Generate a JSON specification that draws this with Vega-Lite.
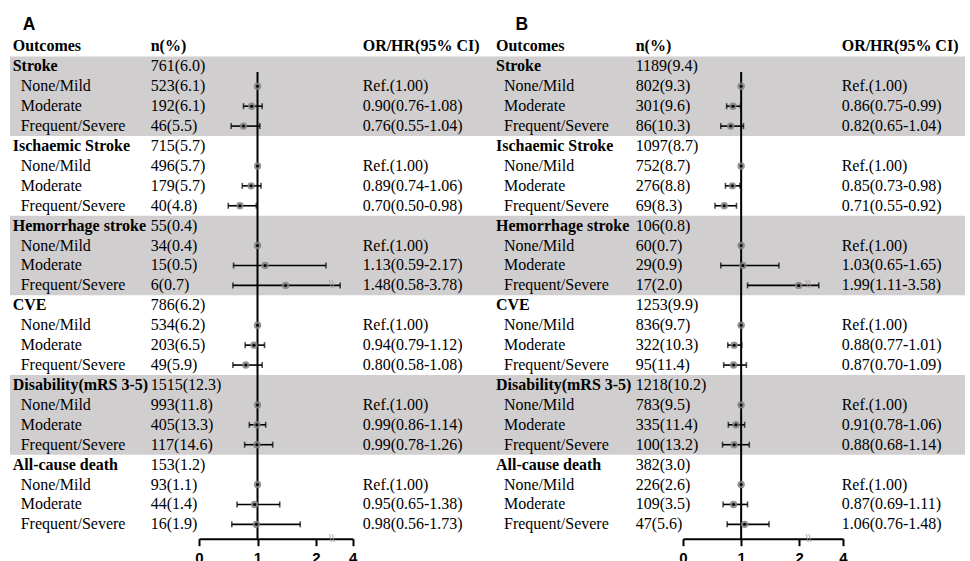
{
  "$schema": "https://vega.github.io/schema/vega-lite/v6.json",
  "padding": {"left": 10, "top": 15.5, "right": 5, "bottom": 0},
  "background": "white",
  "config": {"view": {"stroke": null}},
  "datasets": {
    "bands": [{"start": 0.5, "end": 4.5}, {"start": 8.5, "end": 12.5}, {"start": 16.5, "end": 20.5}],
    "tabA": [
      {"row": 0, "level": "header", "label": "Outcomes", "n": "n(%)", "ci": "OR/HR(95% CI)"},
      {"row": 1, "level": "group", "label": "Stroke", "n": "761(6.0)"},
      {"row": 2, "level": "sub", "label": "None/Mild", "n": "523(6.1)", "ci": "Ref.(1.00)", "est": 1},
      {"row": 3, "level": "sub", "label": "Moderate", "n": "192(6.1)", "ci": "0.90(0.76-1.08)", "est": 0.90, "lo": 0.76, "hi": 1.08},
      {"row": 4, "level": "sub", "label": "Frequent/Severe", "n": "46(5.5)", "ci": "0.76(0.55-1.04)", "est": 0.76, "lo": 0.55, "hi": 1.04},
      {"row": 5, "level": "group", "label": "Ischaemic Stroke", "n": "715(5.7)"},
      {"row": 6, "level": "sub", "label": "None/Mild", "n": "496(5.7)", "ci": "Ref.(1.00)", "est": 1},
      {"row": 7, "level": "sub", "label": "Moderate", "n": "179(5.7)", "ci": "0.89(0.74-1.06)", "est": 0.89, "lo": 0.74, "hi": 1.06},
      {"row": 8, "level": "sub", "label": "Frequent/Severe", "n": "40(4.8)", "ci": "0.70(0.50-0.98)", "est": 0.70, "lo": 0.50, "hi": 0.98},
      {"row": 9, "level": "group", "label": "Hemorrhage stroke", "n": "55(0.4)"},
      {"row": 10, "level": "sub", "label": "None/Mild", "n": "34(0.4)", "ci": "Ref.(1.00)", "est": 1},
      {"row": 11, "level": "sub", "label": "Moderate", "n": "15(0.5)", "ci": "1.13(0.59-2.17)", "est": 1.13, "lo": 0.59, "hi": 2.17},
      {"row": 12, "level": "sub", "label": "Frequent/Severe", "n": "6(0.7)", "ci": "1.48(0.58-3.78)", "est": 1.48, "lo": 0.58, "hi": 3.78},
      {"row": 13, "level": "group", "label": "CVE", "n": "786(6.2)"},
      {"row": 14, "level": "sub", "label": "None/Mild", "n": "534(6.2)", "ci": "Ref.(1.00)", "est": 1},
      {"row": 15, "level": "sub", "label": "Moderate", "n": "203(6.5)", "ci": "0.94(0.79-1.12)", "est": 0.94, "lo": 0.79, "hi": 1.12},
      {"row": 16, "level": "sub", "label": "Frequent/Severe", "n": "49(5.9)", "ci": "0.80(0.58-1.08)", "est": 0.80, "lo": 0.58, "hi": 1.08},
      {"row": 17, "level": "group", "label": "Disability(mRS 3-5)", "n": "1515(12.3)"},
      {"row": 18, "level": "sub", "label": "None/Mild", "n": "993(11.8)", "ci": "Ref.(1.00)", "est": 1},
      {"row": 19, "level": "sub", "label": "Moderate", "n": "405(13.3)", "ci": "0.99(0.86-1.14)", "est": 0.99, "lo": 0.86, "hi": 1.14},
      {"row": 20, "level": "sub", "label": "Frequent/Severe", "n": "117(14.6)", "ci": "0.99(0.78-1.26)", "est": 0.99, "lo": 0.78, "hi": 1.26},
      {"row": 21, "level": "group", "label": "All-cause death", "n": "153(1.2)"},
      {"row": 22, "level": "sub", "label": "None/Mild", "n": "93(1.1)", "ci": "Ref.(1.00)", "est": 1},
      {"row": 23, "level": "sub", "label": "Moderate", "n": "44(1.4)", "ci": "0.95(0.65-1.38)", "est": 0.95, "lo": 0.65, "hi": 1.38},
      {"row": 24, "level": "sub", "label": "Frequent/Severe", "n": "16(1.9)", "ci": "0.98(0.56-1.73)", "est": 0.98, "lo": 0.56, "hi": 1.73}
    ],
    "tabB": [
      {"row": 0, "level": "header", "label": "Outcomes", "n": "n(%)", "ci": "OR/HR(95% CI)"},
      {"row": 1, "level": "group", "label": "Stroke", "n": "1189(9.4)"},
      {"row": 2, "level": "sub", "label": "None/Mild", "n": "802(9.3)", "ci": "Ref.(1.00)", "est": 1},
      {"row": 3, "level": "sub", "label": "Moderate", "n": "301(9.6)", "ci": "0.86(0.75-0.99)", "est": 0.86, "lo": 0.75, "hi": 0.99},
      {"row": 4, "level": "sub", "label": "Frequent/Severe", "n": "86(10.3)", "ci": "0.82(0.65-1.04)", "est": 0.82, "lo": 0.65, "hi": 1.04},
      {"row": 5, "level": "group", "label": "Ischaemic Stroke", "n": "1097(8.7)"},
      {"row": 6, "level": "sub", "label": "None/Mild", "n": "752(8.7)", "ci": "Ref.(1.00)", "est": 1},
      {"row": 7, "level": "sub", "label": "Moderate", "n": "276(8.8)", "ci": "0.85(0.73-0.98)", "est": 0.85, "lo": 0.73, "hi": 0.98},
      {"row": 8, "level": "sub", "label": "Frequent/Severe", "n": "69(8.3)", "ci": "0.71(0.55-0.92)", "est": 0.71, "lo": 0.55, "hi": 0.92},
      {"row": 9, "level": "group", "label": "Hemorrhage stroke", "n": "106(0.8)"},
      {"row": 10, "level": "sub", "label": "None/Mild", "n": "60(0.7)", "ci": "Ref.(1.00)", "est": 1},
      {"row": 11, "level": "sub", "label": "Moderate", "n": "29(0.9)", "ci": "1.03(0.65-1.65)", "est": 1.03, "lo": 0.65, "hi": 1.65},
      {"row": 12, "level": "sub", "label": "Frequent/Severe", "n": "17(2.0)", "ci": "1.99(1.11-3.58)", "est": 1.99, "lo": 1.11, "hi": 3.58},
      {"row": 13, "level": "group", "label": "CVE", "n": "1253(9.9)"},
      {"row": 14, "level": "sub", "label": "None/Mild", "n": "836(9.7)", "ci": "Ref.(1.00)", "est": 1},
      {"row": 15, "level": "sub", "label": "Moderate", "n": "322(10.3)", "ci": "0.88(0.77-1.01)", "est": 0.88, "lo": 0.77, "hi": 1.01},
      {"row": 16, "level": "sub", "label": "Frequent/Severe", "n": "95(11.4)", "ci": "0.87(0.70-1.09)", "est": 0.87, "lo": 0.70, "hi": 1.09},
      {"row": 17, "level": "group", "label": "Disability(mRS 3-5)", "n": "1218(10.2)"},
      {"row": 18, "level": "sub", "label": "None/Mild", "n": "783(9.5)", "ci": "Ref.(1.00)", "est": 1},
      {"row": 19, "level": "sub", "label": "Moderate", "n": "335(11.4)", "ci": "0.91(0.78-1.06)", "est": 0.91, "lo": 0.78, "hi": 1.06},
      {"row": 20, "level": "sub", "label": "Frequent/Severe", "n": "100(13.2)", "ci": "0.88(0.68-1.14)", "est": 0.88, "lo": 0.68, "hi": 1.14},
      {"row": 21, "level": "group", "label": "All-cause death", "n": "382(3.0)"},
      {"row": 22, "level": "sub", "label": "None/Mild", "n": "226(2.6)", "ci": "Ref.(1.00)", "est": 1},
      {"row": 23, "level": "sub", "label": "Moderate", "n": "109(3.5)", "ci": "0.87(0.69-1.11)", "est": 0.87, "lo": 0.69, "hi": 1.11},
      {"row": 24, "level": "sub", "label": "Frequent/Severe", "n": "47(5.6)", "ci": "1.06(0.76-1.48)", "est": 1.06, "lo": 0.76, "hi": 1.48}
    ]
  },
  "spacing": 0,
  "bounds": "flush",
  "hconcat": [
    {
      "title": {"text": "A", "anchor": "start", "font": "Liberation Sans", "fontSize": 17.5, "fontWeight": "bold", "color": "black", "baseline": "top", "dx": 12.7, "offset": 3.1},
      "width": 140, "height": 502.2,
      "data": {"name": "tabA"},
      "encoding": {"y": {"field": "row", "type": "quantitative", "scale": {"domain": [-0.5, 24.72], "reverse": true, "nice": false, "zero": false}, "axis": null}},
      "layer": [
        {"data": {"name": "bands"}, "mark": {"type": "rect", "color": "#d0cece"}, "encoding": {"y": {"field": "start", "type": "quantitative", "axis": null}, "y2": {"field": "end"}}},
        {"transform": [{"filter": "datum.level != 'sub'"}], "mark": {"type": "text", "align": "left", "baseline": "middle", "font": "Liberation Serif", "fontSize": 16, "fontWeight": "bold", "color": "black", "x": 0, "dx": 2.7}, "encoding": {"text": {"field": "label"}}},
        {"transform": [{"filter": "datum.level == 'sub'"}], "mark": {"type": "text", "align": "left", "baseline": "middle", "font": "Liberation Serif", "fontSize": 16, "color": "black", "x": 0, "dx": 10.7}, "encoding": {"text": {"field": "label"}}}
      ]
    },
    {
      "width": 212, "height": 502.2,
      "data": {"name": "tabA"},
      "encoding": {"y": {"field": "row", "type": "quantitative", "scale": {"domain": [-0.5, 24.72], "reverse": true, "nice": false, "zero": false}, "axis": null}},
      "layer": [
        {"data": {"name": "bands"}, "mark": {"type": "rect", "color": "#d0cece"}, "encoding": {"y": {"field": "start", "type": "quantitative", "axis": null}, "y2": {"field": "end"}}},
        {"transform": [{"filter": "datum.level == 'header'"}], "mark": {"type": "text", "align": "left", "baseline": "middle", "font": "Liberation Serif", "fontSize": 16, "fontWeight": "bold", "color": "black", "x": 0, "dx": 0.7}, "encoding": {"text": {"field": "n"}}},
        {"transform": [{"filter": "datum.level != 'header'"}], "mark": {"type": "text", "align": "left", "baseline": "middle", "font": "Liberation Serif", "fontSize": 16, "color": "black", "x": 0, "dx": 0.7}, "encoding": {"text": {"field": "n"}}},
        {"transform": [{"filter": "datum.row == 0"}], "mark": {"type": "rule", "color": "black", "strokeWidth": 2},
         "encoding": {
           "x": {"datum": 1, "type": "quantitative", "scale": {"domain": [0, 2.27, 3.64, 4], "range": [49, 181.8, 182.2, 202.7], "nice": false, "zero": false},
                 "axis": {"values": [0, 1, 2, 4], "format": "d", "title": null, "grid": false, "domainColor": "black", "domainWidth": 2, "tickColor": "black", "tickWidth": 2, "tickSize": 7, "labelFont": "Liberation Sans", "labelFontSize": 15, "labelFontWeight": "bold", "labelColor": "black", "labelPadding": 5, "labelFlush": false, "labelOverlap": false}},
           "y": {"datum": 1.28, "type": "quantitative"}, "y2": {"datum": 24.72, "type": "quantitative"}}},
        {"transform": [{"filter": "isValid(datum.lo)"}], "mark": {"type": "rule", "color": "black", "strokeWidth": 1.6}, "encoding": {"x": {"field": "lo", "type": "quantitative"}, "x2": {"field": "hi"}}},
        {"transform": [{"filter": "isValid(datum.lo)"}], "mark": {"type": "tick", "orient": "vertical", "color": "black", "thickness": 1.6, "size": 6}, "encoding": {"x": {"field": "lo", "type": "quantitative"}}},
        {"transform": [{"filter": "isValid(datum.hi)"}], "mark": {"type": "tick", "orient": "vertical", "color": "black", "thickness": 1.6, "size": 6}, "encoding": {"x": {"field": "hi", "type": "quantitative"}}},
        {"transform": [{"filter": "datum.hi > 2.27"}], "mark": {"type": "text", "text": "\\\\", "font": "Liberation Sans", "fontSize": 10, "color": "#9a9a9a", "align": "center", "baseline": "middle"}, "encoding": {"x": {"datum": 2.27, "type": "quantitative"}}},
        {"transform": [{"filter": "datum.row == 0"}], "mark": {"type": "text", "text": "\\\\", "font": "Liberation Sans", "fontSize": 10, "color": "#9a9a9a", "align": "center", "baseline": "middle"}, "encoding": {"x": {"datum": 2.27, "type": "quantitative"}, "y": {"datum": 24.72, "type": "quantitative"}}},
        {"transform": [{"filter": "isValid(datum.est)"}], "mark": {"type": "circle", "color": "#808080", "size": 55, "opacity": 0.85}, "encoding": {"x": {"field": "est", "type": "quantitative"}}},
        {"transform": [{"filter": "isValid(datum.est)"}], "mark": {"type": "circle", "color": "black", "size": 9, "opacity": 1}, "encoding": {"x": {"field": "est", "type": "quantitative"}}}
      ]
    },
    {
      "width": 130, "height": 502.2,
      "data": {"name": "tabA"},
      "encoding": {"y": {"field": "row", "type": "quantitative", "scale": {"domain": [-0.5, 24.72], "reverse": true, "nice": false, "zero": false}, "axis": null}},
      "layer": [
        {"data": {"name": "bands"}, "mark": {"type": "rect", "color": "#d0cece"}, "encoding": {"y": {"field": "start", "type": "quantitative", "axis": null}, "y2": {"field": "end"}}},
        {"transform": [{"filter": "datum.level == 'header'"}], "mark": {"type": "text", "align": "left", "baseline": "middle", "font": "Liberation Serif", "fontSize": 16, "fontWeight": "bold", "color": "black", "x": 0, "dx": 0.7}, "encoding": {"text": {"field": "ci"}}},
        {"transform": [{"filter": "datum.level == 'sub'"}], "mark": {"type": "text", "align": "left", "baseline": "middle", "font": "Liberation Serif", "fontSize": 16, "color": "black", "x": 0, "dx": 0.7}, "encoding": {"text": {"field": "ci"}}}
      ]
    },
    {
      "title": {"text": "B", "anchor": "start", "font": "Liberation Sans", "fontSize": 17.5, "fontWeight": "bold", "color": "black", "baseline": "top", "dx": 23.5, "offset": 3.1},
      "width": 143, "height": 502.2,
      "data": {"name": "tabB"},
      "encoding": {"y": {"field": "row", "type": "quantitative", "scale": {"domain": [-0.5, 24.72], "reverse": true, "nice": false, "zero": false}, "axis": null}},
      "layer": [
        {"data": {"name": "bands"}, "mark": {"type": "rect", "color": "#d0cece"}, "encoding": {"y": {"field": "start", "type": "quantitative", "axis": null}, "y2": {"field": "end"}}},
        {"transform": [{"filter": "datum.level != 'sub'"}], "mark": {"type": "text", "align": "left", "baseline": "middle", "font": "Liberation Serif", "fontSize": 16, "fontWeight": "bold", "color": "black", "x": 0, "dx": 4}, "encoding": {"text": {"field": "label"}}},
        {"transform": [{"filter": "datum.level == 'sub'"}], "mark": {"type": "text", "align": "left", "baseline": "middle", "font": "Liberation Serif", "fontSize": 16, "color": "black", "x": 0, "dx": 12}, "encoding": {"text": {"field": "label"}}}
      ]
    },
    {
      "width": 206, "height": 502.2,
      "data": {"name": "tabB"},
      "encoding": {"y": {"field": "row", "type": "quantitative", "scale": {"domain": [-0.5, 24.72], "reverse": true, "nice": false, "zero": false}, "axis": null}},
      "layer": [
        {"data": {"name": "bands"}, "mark": {"type": "rect", "color": "#d0cece"}, "encoding": {"y": {"field": "start", "type": "quantitative", "axis": null}, "y2": {"field": "end"}}},
        {"transform": [{"filter": "datum.level == 'header'"}], "mark": {"type": "text", "align": "left", "baseline": "middle", "font": "Liberation Serif", "fontSize": 16, "fontWeight": "bold", "color": "black", "x": 0, "dx": 0.7}, "encoding": {"text": {"field": "n"}}},
        {"transform": [{"filter": "datum.level != 'header'"}], "mark": {"type": "text", "align": "left", "baseline": "middle", "font": "Liberation Serif", "fontSize": 16, "color": "black", "x": 0, "dx": 0.7}, "encoding": {"text": {"field": "n"}}},
        {"transform": [{"filter": "datum.row == 0"}], "mark": {"type": "rule", "color": "black", "strokeWidth": 2},
         "encoding": {
           "x": {"datum": 1, "type": "quantitative", "scale": {"domain": [0, 2.16, 3.41, 4], "range": [48, 173.6, 174, 208], "nice": false, "zero": false},
                 "axis": {"values": [0, 1, 2, 4], "format": "d", "title": null, "grid": false, "domainColor": "black", "domainWidth": 2, "tickColor": "black", "tickWidth": 2, "tickSize": 7, "labelFont": "Liberation Sans", "labelFontSize": 15, "labelFontWeight": "bold", "labelColor": "black", "labelPadding": 5, "labelFlush": false, "labelOverlap": false}},
           "y": {"datum": 1.28, "type": "quantitative"}, "y2": {"datum": 24.72, "type": "quantitative"}}},
        {"transform": [{"filter": "isValid(datum.lo)"}], "mark": {"type": "rule", "color": "black", "strokeWidth": 1.6}, "encoding": {"x": {"field": "lo", "type": "quantitative"}, "x2": {"field": "hi"}}},
        {"transform": [{"filter": "isValid(datum.lo)"}], "mark": {"type": "tick", "orient": "vertical", "color": "black", "thickness": 1.6, "size": 6}, "encoding": {"x": {"field": "lo", "type": "quantitative"}}},
        {"transform": [{"filter": "isValid(datum.hi)"}], "mark": {"type": "tick", "orient": "vertical", "color": "black", "thickness": 1.6, "size": 6}, "encoding": {"x": {"field": "hi", "type": "quantitative"}}},
        {"transform": [{"filter": "datum.hi > 2.16"}], "mark": {"type": "text", "text": "\\\\", "font": "Liberation Sans", "fontSize": 10, "color": "#9a9a9a", "align": "center", "baseline": "middle"}, "encoding": {"x": {"datum": 2.2, "type": "quantitative"}}},
        {"transform": [{"filter": "datum.row == 0"}], "mark": {"type": "text", "text": "\\\\", "font": "Liberation Sans", "fontSize": 10, "color": "#9a9a9a", "align": "center", "baseline": "middle"}, "encoding": {"x": {"datum": 2.16, "type": "quantitative"}, "y": {"datum": 24.72, "type": "quantitative"}}},
        {"transform": [{"filter": "isValid(datum.est)"}], "mark": {"type": "circle", "color": "#808080", "size": 55, "opacity": 0.85}, "encoding": {"x": {"field": "est", "type": "quantitative"}}},
        {"transform": [{"filter": "isValid(datum.est)"}], "mark": {"type": "circle", "color": "black", "size": 9, "opacity": 1}, "encoding": {"x": {"field": "est", "type": "quantitative"}}}
      ]
    },
    {
      "width": 124, "height": 502.2,
      "data": {"name": "tabB"},
      "encoding": {"y": {"field": "row", "type": "quantitative", "scale": {"domain": [-0.5, 24.72], "reverse": true, "nice": false, "zero": false}, "axis": null}},
      "layer": [
        {"data": {"name": "bands"}, "mark": {"type": "rect", "color": "#d0cece"}, "encoding": {"y": {"field": "start", "type": "quantitative", "axis": null}, "y2": {"field": "end"}}},
        {"transform": [{"filter": "datum.level == 'header'"}], "mark": {"type": "text", "align": "left", "baseline": "middle", "font": "Liberation Serif", "fontSize": 16, "fontWeight": "bold", "color": "black", "x": 0, "dx": 0.7}, "encoding": {"text": {"field": "ci"}}},
        {"transform": [{"filter": "datum.level == 'sub'"}], "mark": {"type": "text", "align": "left", "baseline": "middle", "font": "Liberation Serif", "fontSize": 16, "color": "black", "x": 0, "dx": 0.7}, "encoding": {"text": {"field": "ci"}}}
      ]
    }
  ]
}
